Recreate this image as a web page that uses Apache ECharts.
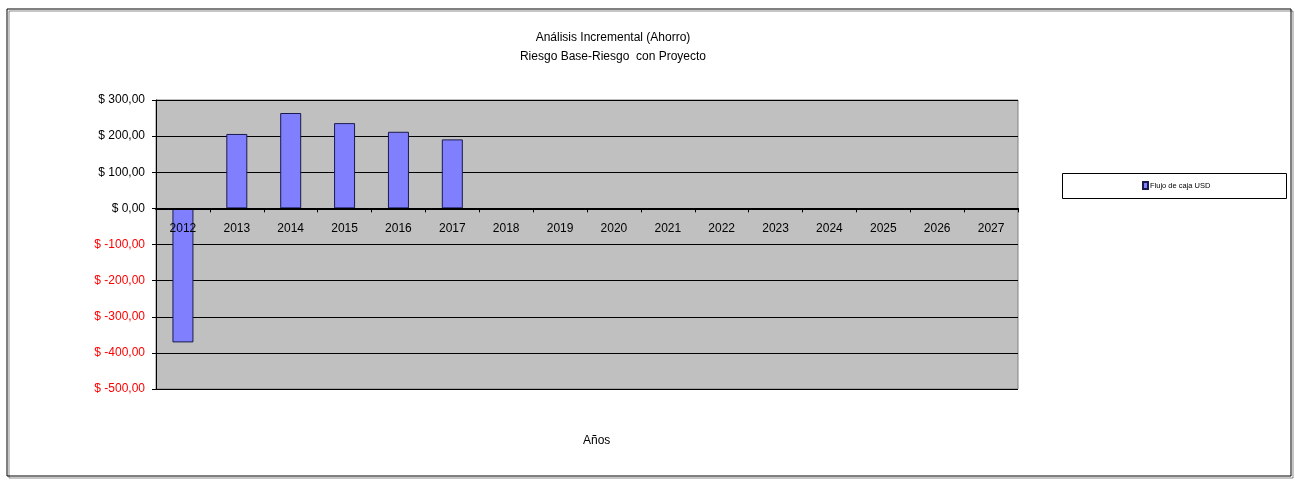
<!DOCTYPE html>
<html>
<head>
<meta charset="utf-8">
<script src="https://cdn.jsdelivr.net/npm/echarts@6/dist/echarts.min.js"></script>
<style>
  html, body { margin: 0; padding: 0; background: #fff; }
  #chart { width: 1295px; height: 480px; }
</style>
</head>
<body>
<div id="chart"></div>
<script>
// Cash flow per year (USD), incremental savings analysis
const years = ['2012','2013','2014','2015','2016','2017','2018','2019','2020','2021','2022','2023','2024','2025','2026','2027'];
const cashFlow = [-371, 206, 264, 236, 212, 191, null, null, null, null, null, null, null, null, null, null];
const seriesName = 'Flujo de caja USD';
const titleLines = ['Análisis Incremental (Ahorro)', 'Riesgo Base-Riesgo  con Proyecto'];
const xAxisTitle = 'Años';

const FONT = '"Liberation Sans", Arial, sans-serif';

const GRID_TOP = 100, GRID_BOTTOM = 91, CHART_H = 480;
const Y_MIN = -500, Y_MAX = 300;

const chart = echarts.init(document.getElementById('chart'), null, { renderer: 'canvas' });

function money(v) {
  return '$ ' + v.toFixed(2).replace('.', ',');
}

// Category axis sits on the zero line: shift it up from the plot's bottom edge
const plotH = CHART_H - GRID_TOP - GRID_BOTTOM;
const zeroOffset = -plotH * (0 - Y_MIN) / (Y_MAX - Y_MIN);

chart.setOption({
  animation: false,
  backgroundColor: '#ffffff',
  title: {
    text: titleLines.join('\n'),
    left: 608,
    top: 23,
    textAlign: 'center',
    textStyle: { fontFamily: FONT, fontSize: 12, fontWeight: 'normal', color: '#000', lineHeight: 19 }
  },
  legend: {
    data: [{ name: seriesName, icon: 'rect' }],
    left: 1142,
    top: 181,
    padding: 0,
    itemWidth: 5,
    itemHeight: 7,
    itemGap: 2,
    textStyle: { fontFamily: FONT, fontSize: 7.5, color: '#000', padding: [0, 0, 0, -3] }
  },
  grid: {
    left: 156,
    right: 277,
    top: GRID_TOP,
    bottom: GRID_BOTTOM,
    show: true,
    backgroundColor: '#C0C0C0',
    borderColor: '#808080',
    borderWidth: 1
  },
  xAxis: {
    type: 'category',
    data: years,
    z: 5,
    offset: zeroOffset,
    axisLine: { onZero: false, lineStyle: { color: '#000', width: 2 } },
    axisTick: { show: true, length: 4, lineStyle: { color: '#000' } },
    axisLabel: { fontFamily: FONT, fontSize: 12, color: '#000', margin: 14 },
    splitLine: { show: false }
  },
  yAxis: {
    type: 'value',
    min: Y_MIN,
    max: Y_MAX,
    interval: 100,
    axisLine: { show: true, lineStyle: { color: '#000', width: 1 } },
    axisTick: { show: true, length: 4, lineStyle: { color: '#000' } },
    axisLabel: {
      fontFamily: FONT,
      fontSize: 12,
      margin: 11,
      formatter: money,
      color: function (v) { return Number(v) < 0 ? '#FF0000' : '#000000'; }
    },
    splitLine: { show: true, lineStyle: { color: '#000', width: 1 } }
  },
  series: [{
    name: seriesName,
    type: 'bar',
    data: cashFlow,
    barWidth: 21,
    itemStyle: { color: '#8080FF', borderColor: '#1a1a4d', borderWidth: 1 }
  }],
  graphic: [
    {
      type: 'rect',
      shape: { x: 7, y: 9, width: 1284, height: 467 },
      style: { fill: 'transparent', stroke: '#000', lineWidth: 1, shadowColor: 'rgba(0,0,0,0.45)', shadowOffsetX: 2, shadowOffsetY: 2, shadowBlur: 0 },
      z: -10
    },
    {
      type: 'rect',
      shape: { x: 1062.5, y: 173.5, width: 224, height: 25 },
      style: { fill: '#fff', stroke: '#000', lineWidth: 1 },
      z: -5
    },
    {
      type: 'text',
      left: 583,
      top: 435,
      style: { text: xAxisTitle, fontFamily: FONT, fontSize: 12, fill: '#000', textAlign: 'center' }
    }
  ]
});
</script>
</body>
</html>
